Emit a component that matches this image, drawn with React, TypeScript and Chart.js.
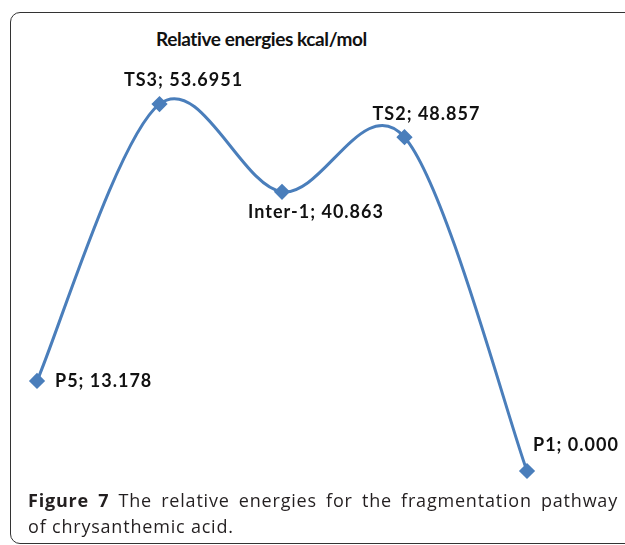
import React, { useEffect, useRef } from "react";
import { Chart, registerables } from "chart.js";

Chart.register(...registerables);

const categories = ["P5", "TS3", "Inter-1", "TS2", "P1"];
const energies = [13.178, 53.6951, 40.863, 48.857, 0.0];
const valueLabels = ["13.178", "53.6951", "40.863", "48.857", "0.000"];

const labelOffsets = [
  { dx: 18, dy: 0, align: "left" },
  { dx: 24, dy: -24, align: "center" },
  { dx: 34, dy: 20, align: "center" },
  { dx: 22, dy: -23, align: "center" },
  { dx: 6, dy: -26, align: "left" },
];

// Excel-like (Catmull-Rom) smoothing of the line between the scale-positioned points
const smoothPlugin = {
  id: "excelSmooth",
  beforeDatasetDraw(chart: any, args: any) {
    const meta = chart.getDatasetMeta(args.index);
    const line = meta.dataset;
    if (!line) return;
    line.updateControlPoints(chart.chartArea, meta.iScale.axis);
    const pts = meta.data;
    const n = pts.length;
    for (let i = 0; i < n; i++) {
      const p = pts[i];
      const prev = pts[Math.max(0, i - 1)];
      const next = pts[Math.min(n - 1, i + 1)];
      const tx = (next.x - prev.x) / 6;
      const ty = (next.y - prev.y) / 6;
      p.cp1x = p.x - tx;
      p.cp1y = p.y - ty;
      p.cp2x = p.x + tx;
      p.cp2y = p.y + ty;
    }
    line._path = undefined;
  },
};

const labelPlugin = {
  id: "pointLabels",
  afterDatasetsDraw(chart: any) {
    const meta = chart.getDatasetMeta(0);
    const ctx = chart.ctx;
    ctx.save();
    ctx.font = "bold 18px Lato";
    (ctx as any).letterSpacing = "1px";
    ctx.fillStyle = "#111";
    ctx.textBaseline = "middle";
    meta.data.forEach((pt: any, i: number) => {
      const o = labelOffsets[i];
      ctx.textAlign = o.align;
      ctx.fillText(categories[i] + "; " + valueLabels[i], pt.x + o.dx, pt.y + o.dy);
    });
    ctx.restore();
  },
};

export default function App() {
  const ref = useRef<HTMLCanvasElement>(null);
  useEffect(() => {
    const chart = new Chart(ref.current!, {
      type: "line",
      data: {
        labels: categories,
        datasets: [
          {
            data: energies,
            borderColor: "#4A7EBB",
            backgroundColor: "#4A7EBB",
            borderWidth: 3,
            tension: 0.4,
            pointStyle: "rectRot",
            pointRadius: 6,
            pointBackgroundColor: "#4A7EBB",
            pointBorderColor: "#4A7EBB",
            clip: false as any,
          },
        ],
      },
      options: {
        animation: false,
        responsive: false,
        maintainAspectRatio: false,
        layout: { padding: { left: 37, right: 98, top: 61, bottom: 74 } },
        plugins: { legend: { display: false }, tooltip: { enabled: false }, title: { display: false } },
        scales: {
          x: { display: false, offset: false },
          y: { display: false, min: 0, max: 60 },
        },
      },
      plugins: [smoothPlugin, labelPlugin],
    });
    return () => chart.destroy();
  }, []);

  return (
    <div style={{ position: "absolute", left: 0, top: 0, width: 625, height: 545, overflow: "hidden", background: "#fff" }}>
      <div
        style={{
          position: "absolute",
          left: 156,
          top: 12,
          width: 700,
          height: 532,
          border: "1.5px solid #333",
          borderRadius: 10,
          boxSizing: "border-box",
          display: "none",
        }}
      />
      <div
        style={{
          position: "absolute",
          left: 10,
          top: 12,
          width: 700,
          height: 532,
          border: "1.5px solid #333",
          borderRadius: 10,
          boxSizing: "border-box",
        }}
      />
      <div
        style={{
          position: "absolute",
          left: 156,
          top: 27,
          font: "bold 19px Lato",
          letterSpacing: "-0.4px",
          color: "#111",
          whiteSpace: "nowrap",
        }}
      >
        Relative energies kcal/mol
      </div>
      <canvas ref={ref} width={625} height={545} style={{ position: "absolute", left: 0, top: 0 }} />
      <div
        style={{
          position: "absolute",
          left: 28,
          top: 487,
          width: 590,
          font: "18px 'Open Sans'",
          lineHeight: "26px",
          color: "#231f20",
          letterSpacing: "0.8px",
          whiteSpace: "nowrap",
        }}
      >
        <div style={{ textAlign: "justify", textAlignLast: "justify" as any }}>
          <b>Figure 7</b> The relative energies for the fragmentation pathway
        </div>
        <div>of chrysanthemic acid.</div>
      </div>
    </div>
  );
}
